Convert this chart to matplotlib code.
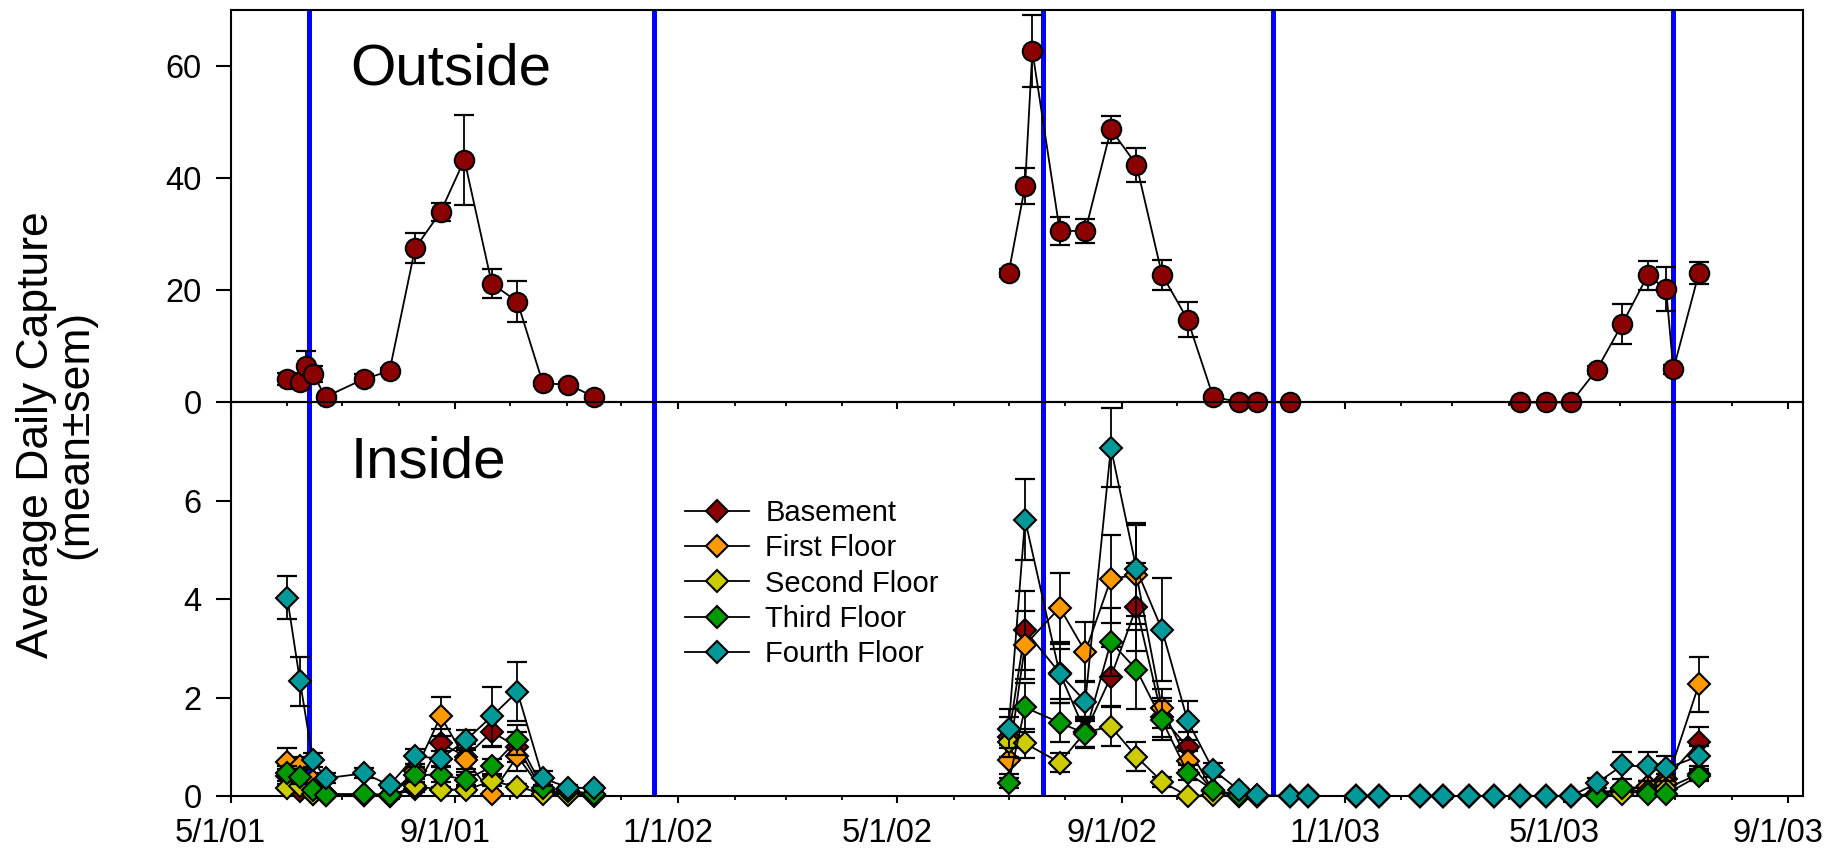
import matplotlib
matplotlib.use('Agg')
import matplotlib.pyplot as plt
import matplotlib.transforms as mtransforms
import numpy as np
import pandas as pd

plt.rcParams['font.family'] = ['Liberation Sans', 'DejaVu Sans']

# ---- outside traps (mean +- sem), three seasons ----
out_dates = ['2001-06-01', '2001-06-08', '2001-06-11', '2001-06-15', '2001-06-22',
             '2001-07-13', '2001-07-27', '2001-08-10', '2001-08-24', '2001-09-06',
             '2001-09-21', '2001-10-05', '2001-10-19', '2001-11-02', '2001-11-16',
             '2002-07-01', '2002-07-10', '2002-07-14', '2002-07-29', '2002-08-12',
             '2002-08-26', '2002-09-09', '2002-09-23', '2002-10-07', '2002-10-21',
             '2002-11-04', '2002-11-14', '2002-12-02',
             '2003-04-07', '2003-04-21', '2003-05-05', '2003-05-19', '2003-06-02',
             '2003-06-16', '2003-06-26', '2003-06-30', '2003-07-14']
out_mean = [4.2, 3.6, 6.5, 5.1, 1.0, 4.2, 5.6, 27.5, 34.0, 43.3, 21.2, 18.0, 3.4, 3.2, 1.0,
            23.1, 38.6, 62.7, 30.6, 30.6, 48.7, 42.4, 22.8, 14.8, 1.0, 0.1, 0.1, 0.0,
            0.0, 0.0, 0.0, 5.8, 14.0, 22.7, 20.2, 5.9, 23.1]
out_sem = [1.0, 1.2, 2.6, 1.4, 0.3, 0.8, 0.6, 2.7, 1.6, 8.0, 2.6, 3.6, 0.5, 0.5, 0.3,
           0.7, 3.2, 6.5, 2.5, 2.2, 2.4, 3.0, 2.7, 3.2, 0.3, 0.1, 0.1, 0.0,
           0.0, 0.0, 0.0, 0.7, 3.6, 2.6, 3.9, 0.8, 1.9]
out_breaks = [15, 28]

# ---- inside traps, per floor ----
in_dates = ['2001-06-01', '2001-06-08', '2001-06-15', '2001-06-22', '2001-07-13',
            '2001-07-27', '2001-08-10', '2001-08-24', '2001-09-07', '2001-09-21',
            '2001-10-05', '2001-10-19', '2001-11-02', '2001-11-16',
            '2002-07-01', '2002-07-10', '2002-07-29', '2002-08-12', '2002-08-26',
            '2002-09-09', '2002-09-23', '2002-10-07', '2002-10-21', '2002-11-04',
            '2002-11-14', '2002-12-02', '2002-12-12', '2003-01-07', '2003-01-20',
            '2003-02-11', '2003-02-24', '2003-03-10', '2003-03-24', '2003-04-07',
            '2003-04-21', '2003-05-05', '2003-05-19', '2003-06-02', '2003-06-16',
            '2003-06-26', '2003-07-14']
in_breaks = [14]

basement = [0.40, 0.10, 0.05, 0.02, 0.02, 0.00, 0.14, 1.07, 0.80, 1.30, 1.00, 0.10, 0.05, 0.02,
            1.20, 3.37, 2.50, 1.30, 2.42, 3.84, 1.60, 1.00, 0.10, 0.02, 0.00,
            0, 0, 0, 0, 0, 0, 0, 0, 0, 0, 0, 0.05, 0.15, 0.20, 0.35, 1.10]
basement_sem = [0.15, 0.05, 0.02, 0.01, 0.01, 0.00, 0.05, 0.30, 0.25, 0.30, 0.30, 0.05, 0.02, 0.01,
                0.40, 0.80, 0.60, 0.30, 0.60, 0.90, 0.40, 0.30, 0.05, 0.01, 0.00,
                0, 0, 0, 0, 0, 0, 0, 0, 0, 0, 0, 0.03, 0.05, 0.10, 0.10, 0.30]
first = [0.70, 0.60, 0.30, 0.05, 0.02, 0.02, 0.50, 1.62, 0.73, 0.05, 0.81, 0.10, 0.05, 0.02,
         0.74, 3.07, 3.83, 2.93, 4.41, 4.50, 1.78, 0.72, 0.10, 0.00, 0.00,
         0, 0, 0, 0, 0, 0, 0, 0, 0, 0, 0, 0.05, 0.10, 0.20, 0.25, 2.27]
first_sem = [0.27, 0.20, 0.10, 0.02, 0.01, 0.01, 0.15, 0.40, 0.25, 0.03, 0.30, 0.05, 0.02, 0.01,
             0.30, 0.70, 0.70, 0.60, 0.90, 1.00, 0.40, 0.20, 0.05, 0.00, 0.00,
             0, 0, 0, 0, 0, 0, 0, 0, 0, 0, 0, 0.03, 0.05, 0.10, 0.10, 0.56]
second = [0.17, 0.20, 0.05, 0.02, 0.02, 0.00, 0.20, 0.13, 0.13, 0.30, 0.19, 0.05, 0.02, 0.00,
          1.10, 1.07, 0.68, 1.30, 1.41, 0.80, 0.29, 0.00, 0.02, 0.00, 0.00,
          0, 0, 0, 0, 0, 0, 0, 0, 0, 0, 0, 0.00, 0.05, 0.10, 0.15, 0.45]
second_sem = [0.05, 0.05, 0.02, 0.01, 0.01, 0.00, 0.05, 0.05, 0.05, 0.10, 0.05, 0.02, 0.01, 0.00,
              0.30, 0.30, 0.20, 0.30, 0.40, 0.30, 0.10, 0.00, 0.01, 0.00, 0.00,
              0, 0, 0, 0, 0, 0, 0, 0, 0, 0, 0, 0.00, 0.03, 0.05, 0.05, 0.10]
third = [0.46, 0.39, 0.12, 0.02, 0.05, 0.02, 0.43, 0.43, 0.33, 0.60, 1.14, 0.17, 0.10, 0.05,
         0.27, 1.80, 1.49, 1.27, 3.13, 2.57, 1.54, 0.47, 0.12, 0.02, 0.00,
         0, 0, 0, 0, 0, 0, 0, 0, 0, 0, 0, 0.00, 0.16, 0.05, 0.04, 0.41]
third_sem = [0.15, 0.15, 0.05, 0.01, 0.02, 0.01, 0.15, 0.15, 0.10, 0.15, 0.30, 0.05, 0.03, 0.02,
             0.10, 0.50, 0.40, 0.30, 0.70, 0.80, 0.40, 0.15, 0.05, 0.01, 0.00,
             0, 0, 0, 0, 0, 0, 0, 0, 0, 0, 0, 0.00, 0.05, 0.03, 0.03, 0.10]
fourth = [4.03, 2.33, 0.73, 0.36, 0.46, 0.22, 0.81, 0.76, 1.14, 1.62, 2.12, 0.36, 0.17, 0.16,
          1.37, 5.62, 2.48, 1.92, 7.08, 4.61, 3.38, 1.53, 0.53, 0.12, 0.02,
          0, 0, 0, 0, 0, 0, 0, 0, 0, 0, 0, 0.26, 0.62, 0.60, 0.56, 0.81]
fourth_sem = [0.44, 0.50, 0.15, 0.10, 0.10, 0.05, 0.15, 0.15, 0.20, 0.60, 0.60, 0.15, 0.05, 0.05,
              0.40, 0.83, 0.50, 0.40, 0.80, 0.95, 1.05, 0.40, 0.15, 0.05, 0.01,
              0, 0, 0, 0, 0, 0, 0, 0, 0, 0, 0, 0.10, 0.28, 0.30, 0.25, 0.20]

floor_names = ['Basement', 'First Floor', 'Second Floor', 'Third Floor', 'Fourth Floor']
floor_colors = ['#8B0000', '#FF9900', '#CCCC00', '#009900', '#009999']

# blue reference lines
event_dates = ['2001-06-13', '2001-12-19', '2002-07-20', '2002-11-23', '2003-06-30']

tick_dates = ['2001-05-01', '2001-09-01', '2002-01-01', '2002-05-01',
              '2002-09-01', '2003-01-01', '2003-05-01', '2003-09-01']
tick_labels = ['5/1/01', '9/1/01', '1/1/02', '5/1/02', '9/1/02', '1/1/03', '5/1/03', '9/1/03']


def plot_series(ax, dates, vals, errs, breaks, color, marker, ms, z, label=None):
    dates = pd.to_datetime(dates).values
    vals = np.array(vals, dtype=float)
    errs = np.array(errs, dtype=float)
    first_seg = True
    for d, v, e in zip(np.split(dates, breaks), np.split(vals, breaks), np.split(errs, breaks)):
        ax.errorbar(d, v, yerr=e, fmt='none', ecolor='black', elinewidth=1.3,
                    capsize=7, capthick=1.6, zorder=z, clip_on=False)
        ax.plot(d, v, '-', color='black', lw=1.3, marker=marker, ms=ms, mfc=color,
                mec='black', mew=1.5, zorder=z + 1, clip_on=False,
                label=label if first_seg else None)
        first_seg = False


fig = plt.figure(figsize=(18.29, 8.56), dpi=100)
ax_out = fig.add_axes([0.1261, 0.5298, 0.8597, 0.4585])
ax_in = fig.add_axes([0.1261, 0.0701, 0.8597, 0.4597], sharex=ax_out)
for ax in (ax_out, ax_in):
    ax.patch.set_visible(False)

plot_series(ax_out, out_dates, out_mean, out_sem, out_breaks, '#8B0000', 'o', 14, 3)

floors = [(basement, basement_sem), (first, first_sem), (second, second_sem),
          (third, third_sem), (fourth, fourth_sem)]
for i, (vals, errs) in enumerate(floors):
    plot_series(ax_in, in_dates, vals, errs, in_breaks, floor_colors[i], 'D', 11.5,
                3 + 2 * i, label=floor_names[i])

for ax in (ax_out, ax_in):
    for d in pd.to_datetime(event_dates):
        ax.axvline(d, color='#0000FF', lw=3.6, zorder=1.5)

ax_out.set_ylim(0, 70)
ax_out.set_yticks([0, 20, 40, 60])
ax_in.set_ylim(0, 8)
ax_in.set_yticks([0, 2, 4, 6])

ax_in.set_xlim(pd.Timestamp('2001-05-01'), pd.Timestamp('2003-09-09'))
ax_in.set_xticks(pd.to_datetime(tick_dates))
ax_in.set_xticklabels(tick_labels)
ax_in.set_xticks(pd.date_range('2001-05-01', '2003-09-01', freq='MS'), minor=True)

for ax in (ax_out, ax_in):
    for s in ax.spines.values():
        s.set_linewidth(1.5)
    ax.tick_params(axis='both', which='major', labelsize=23.5, width=1.5, direction='out')
    ax.tick_params(axis='x', which='major', length=5, pad=11)
    ax.tick_params(axis='x', which='minor', length=3, width=1.3, direction='out')
    ax.tick_params(axis='y', which='major', length=11, pad=10)
ax_out.tick_params(axis='x', labelbottom=False)

# labels sit a little left of their ticks in the original
shift = mtransforms.ScaledTranslation(-10 / 100, 0, fig.dpi_scale_trans)
for lab in ax_in.get_xticklabels():
    lab.set_transform(lab.get_transform() + shift)

ax_out.text(0.076, 0.809, 'Outside', transform=ax_out.transAxes, fontsize=42,
            ha='left', va='baseline')
ax_in.text(0.076, 0.81, 'Inside', transform=ax_in.transAxes, fontsize=42,
           ha='left', va='baseline')

fig.text(0.0305, 0.492, 'Average Daily Capture\n(mean\u00b1sem)', rotation=90,
         fontsize=32, ha='center', va='center', multialignment='center', linespacing=0.95)

ax_in.legend(loc='upper left', bbox_to_anchor=(685 / 1829, 1 - 499 / 856),
             bbox_transform=fig.transFigure, frameon=False, fontsize=21,
             handlelength=2.2, handletextpad=0.55, labelspacing=0.25,
             borderpad=0, borderaxespad=0)

fig.savefig('out.png', dpi=100)
